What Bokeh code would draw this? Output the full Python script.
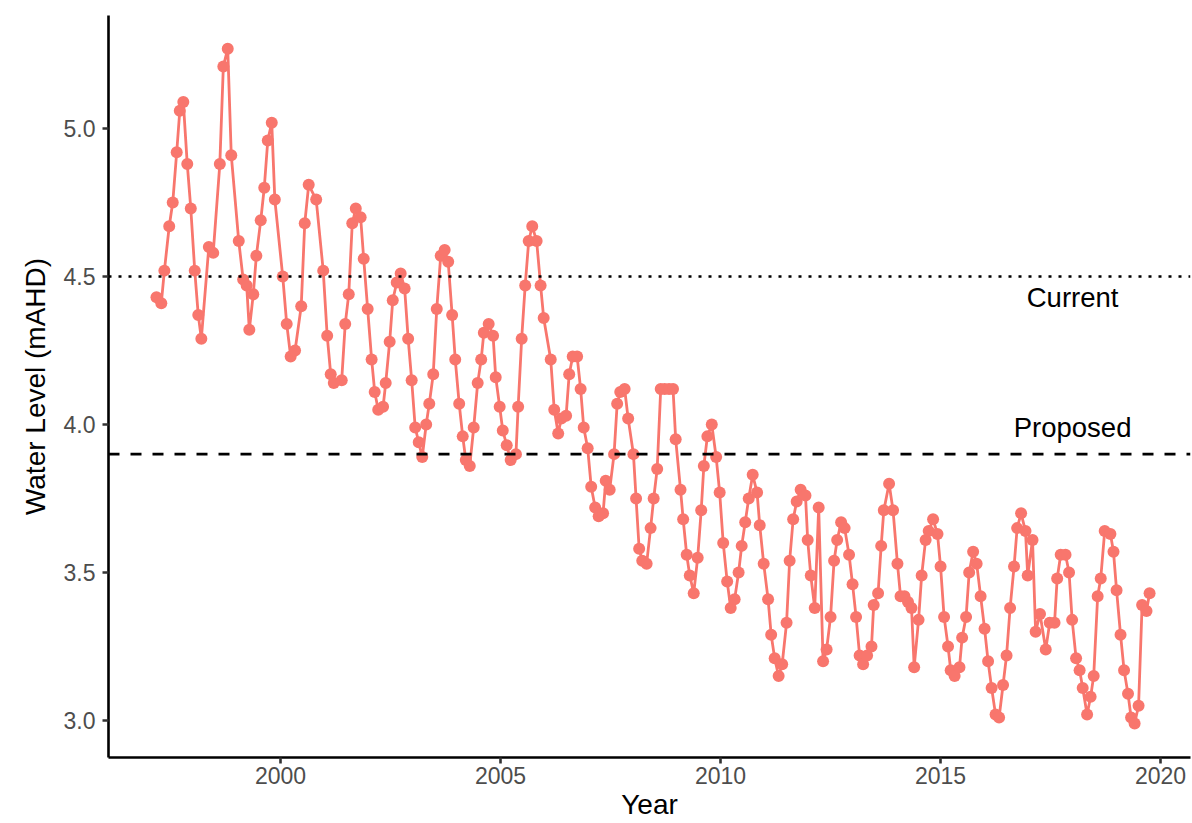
from bokeh.plotting import figure
from bokeh.models import Range1d, FixedTicker, PrintfTickFormatter, Span, ColumnDataSource
from bokeh.core.properties import value
from bokeh.embed import file_html
from bokeh.resources import INLINE

year = [
    1997.18, 1997.29, 1997.36, 1997.47, 1997.55, 1997.64, 1997.71, 1997.79, 1997.88, 1997.96,
    1998.05, 1998.13, 1998.20, 1998.37, 1998.47, 1998.62, 1998.70, 1998.80, 1998.88, 1999.05,
    1999.15, 1999.23, 1999.29, 1999.38, 1999.45, 1999.55, 1999.63, 1999.71, 1999.80, 1999.87,
    2000.05, 2000.14, 2000.23, 2000.33, 2000.47, 2000.55, 2000.64, 2000.81, 2000.97, 2001.06,
    2001.14, 2001.21, 2001.39, 2001.47, 2001.55, 2001.63, 2001.71, 2001.82, 2001.89, 2001.98,
    2002.07, 2002.14, 2002.22, 2002.33, 2002.39, 2002.48, 2002.55, 2002.64, 2002.73, 2002.82,
    2002.90, 2002.98, 2003.06, 2003.14, 2003.22, 2003.31, 2003.38, 2003.47, 2003.55, 2003.64,
    2003.73, 2003.81, 2003.90, 2003.97, 2004.06, 2004.14, 2004.21, 2004.30, 2004.39, 2004.48,
    2004.56, 2004.62, 2004.73, 2004.83, 2004.89, 2004.98, 2005.05, 2005.14, 2005.23, 2005.35,
    2005.40, 2005.48, 2005.56, 2005.64, 2005.72, 2005.82, 2005.91, 2005.98, 2006.14, 2006.22,
    2006.31, 2006.38, 2006.49, 2006.56, 2006.64, 2006.74, 2006.82, 2006.89, 2006.98, 2007.06,
    2007.15, 2007.23, 2007.33, 2007.39, 2007.48, 2007.58, 2007.65, 2007.72, 2007.82, 2007.90,
    2008.02, 2008.08, 2008.15, 2008.22, 2008.32, 2008.41, 2008.48, 2008.56, 2008.64, 2008.73,
    2008.83, 2008.92, 2008.98, 2009.09, 2009.15, 2009.23, 2009.30, 2009.39, 2009.48, 2009.56,
    2009.62, 2009.70, 2009.80, 2009.90, 2009.98, 2010.06, 2010.15, 2010.23, 2010.32, 2010.41,
    2010.48, 2010.56, 2010.64, 2010.73, 2010.83, 2010.89, 2010.98, 2011.08, 2011.15, 2011.23,
    2011.32, 2011.40, 2011.50, 2011.57, 2011.65, 2011.73, 2011.82, 2011.93, 2011.98, 2012.05,
    2012.14, 2012.23, 2012.33, 2012.41, 2012.50, 2012.58, 2012.65, 2012.74, 2012.82, 2012.92,
    2013.00, 2013.08, 2013.16, 2013.24, 2013.33, 2013.43, 2013.48, 2013.58, 2013.65, 2013.71,
    2013.83, 2013.92, 2014.02, 2014.09, 2014.18, 2014.26, 2014.34, 2014.40, 2014.50, 2014.57,
    2014.66, 2014.73, 2014.83, 2014.93, 2015.00, 2015.08, 2015.17, 2015.23, 2015.32, 2015.43,
    2015.49, 2015.58, 2015.65, 2015.74, 2015.82, 2015.91, 2016.00, 2016.08, 2016.16, 2016.25,
    2016.33, 2016.42, 2016.50, 2016.58, 2016.67, 2016.74, 2016.83, 2016.93, 2016.98, 2017.09,
    2017.16, 2017.26, 2017.39, 2017.48, 2017.59, 2017.65, 2017.73, 2017.84, 2017.92, 2017.99,
    2018.08, 2018.16, 2018.23, 2018.33, 2018.41, 2018.48, 2018.57, 2018.64, 2018.73, 2018.86,
    2018.93, 2019.00, 2019.09, 2019.17, 2019.26, 2019.33, 2019.41, 2019.50, 2019.58, 2019.68,
    2019.75,
]

level = [
    4.43, 4.41, 4.52, 4.67, 4.75, 4.92, 5.06, 5.09, 4.88, 4.73,
    4.52, 4.37, 4.29, 4.60, 4.58, 4.88, 5.21, 5.27, 4.91, 4.62,
    4.49, 4.47, 4.32, 4.44, 4.57, 4.69, 4.80, 4.96, 5.02, 4.76,
    4.50, 4.34, 4.23, 4.25, 4.40, 4.68, 4.81, 4.76, 4.52, 4.30,
    4.17, 4.14, 4.15, 4.34, 4.44, 4.68, 4.73, 4.70, 4.56, 4.39,
    4.22, 4.11, 4.05, 4.06, 4.14, 4.28, 4.42, 4.48, 4.51, 4.46,
    4.29, 4.15, 3.99, 3.94, 3.89, 4.00, 4.07, 4.17, 4.39, 4.57,
    4.59, 4.55, 4.37, 4.22, 4.07, 3.96, 3.88, 3.86, 3.99, 4.14,
    4.22, 4.31, 4.34, 4.30, 4.16, 4.06, 3.98, 3.93, 3.88, 3.90,
    4.06, 4.29, 4.47, 4.62, 4.67, 4.62, 4.47, 4.36, 4.22, 4.05,
    3.97, 4.02, 4.03, 4.17, 4.23, 4.23, 4.12, 3.99, 3.92, 3.79,
    3.72, 3.69, 3.70, 3.81, 3.78, 3.90, 4.07, 4.11, 4.12, 4.02,
    3.90, 3.75, 3.58, 3.54, 3.53, 3.65, 3.75, 3.85, 4.12, 4.12,
    4.12, 4.12, 3.95, 3.78, 3.68, 3.56, 3.49, 3.43, 3.55, 3.71,
    3.86, 3.96, 4.00, 3.89, 3.77, 3.60, 3.47, 3.38, 3.41, 3.50,
    3.59, 3.67, 3.75, 3.83, 3.77, 3.66, 3.53, 3.41, 3.29, 3.21,
    3.15, 3.19, 3.33, 3.54, 3.68, 3.74, 3.78, 3.76, 3.61, 3.49,
    3.38, 3.72, 3.20, 3.24, 3.35, 3.54, 3.61, 3.67, 3.65, 3.56,
    3.46, 3.35, 3.22, 3.19, 3.22, 3.25, 3.39, 3.43, 3.59, 3.71,
    3.80, 3.71, 3.53, 3.42, 3.42, 3.40, 3.38, 3.18, 3.34, 3.49,
    3.61, 3.64, 3.68, 3.63, 3.52, 3.35, 3.25, 3.17, 3.15, 3.18,
    3.28, 3.35, 3.50, 3.57, 3.53, 3.42, 3.31, 3.20, 3.11, 3.02,
    3.01, 3.12, 3.22, 3.38, 3.52, 3.65, 3.70, 3.64, 3.49, 3.61,
    3.30, 3.36, 3.24, 3.33, 3.33, 3.48, 3.56, 3.56, 3.50, 3.34,
    3.21, 3.17, 3.11, 3.02, 3.08, 3.15, 3.42, 3.48, 3.64, 3.63,
    3.57, 3.44, 3.29, 3.17, 3.09, 3.01, 2.99, 3.05, 3.39, 3.37,
    3.43,
]

x_ticks = [2000, 2005, 2010, 2015, 2020]
y_ticks = [3.0, 3.5, 4.0, 4.5, 5.0]

limit_levels = [4.5, 3.9]
limit_names = ["Current", "Proposed"]
label_x = [2018.0, 2018.0]
label_y = [4.43, 3.99]

RED = "#F8766D"
FONT = "Liberation Sans"

p = figure(width=1192, height=823, output_backend="svg", toolbar_location=None,
           x_range=Range1d(1996.09, 2020.68), y_range=Range1d(2.875, 5.382),
           min_border_left=108, min_border_right=2, min_border_top=15, min_border_bottom=66)
p.outline_line_color = None
p.xgrid.visible = False
p.ygrid.visible = False
p.background_fill_color = "white"
p.border_fill_color = "white"

src = ColumnDataSource(dict(x=year, y=level))
p.line("x", "y", source=src, line_color=RED, line_width=2.8)
p.scatter("x", "y", source=src, size=12, fill_color=RED, line_color=RED, line_width=0)

p.add_layout(Span(location=limit_levels[0], dimension="width", line_color="black",
                  line_width=2.6, line_dash="3 7"))
p.add_layout(Span(location=limit_levels[1], dimension="width", line_color="black",
                  line_width=2.8, line_dash="11 11"))

p.text(x=label_x, y=label_y, text=limit_names, text_font=value(FONT), text_font_size="27.5px",
       text_align="center", text_baseline="middle", text_color="black")

for ax in (p.xaxis[0], p.yaxis[0]):
    ax.axis_line_color = "black"
    ax.axis_line_width = 2.6
    ax.major_tick_line_color = "#333333"
    ax.major_tick_line_width = 2.6
    ax.major_tick_in = 0
    ax.major_tick_out = 6
    ax.minor_tick_line_color = None
    ax.major_label_text_font = FONT
    ax.major_label_text_font_size = "23px"
    ax.major_label_text_color = "#4D4D4D"
    ax.axis_label_text_font = FONT
    ax.axis_label_text_font_size = "28px"
    ax.axis_label_text_font_style = "normal"
    ax.axis_label_text_color = "black"

p.xaxis.ticker = FixedTicker(ticks=x_ticks)
p.xaxis.formatter = PrintfTickFormatter(format="%d")
p.xaxis.axis_label = "Year"
p.xaxis.major_label_standoff = 3
p.xaxis.axis_label_standoff = 2

p.yaxis.ticker = FixedTicker(ticks=y_ticks)
p.yaxis.formatter = PrintfTickFormatter(format="%.1f")
p.yaxis.axis_label = "Water Level (mAHD)"
p.yaxis.major_label_standoff = 7
p.yaxis.axis_label_standoff = 10

open("out.html", "w").write(file_html(p, INLINE))
